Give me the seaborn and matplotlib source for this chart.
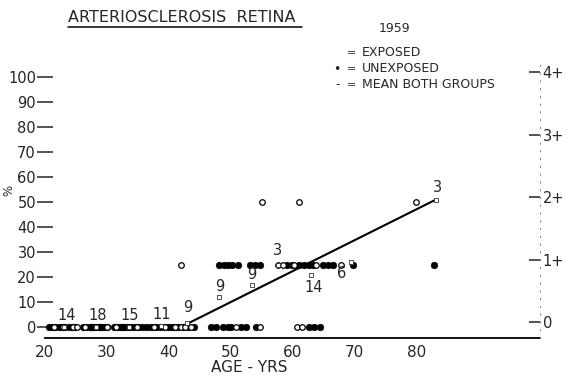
import matplotlib
matplotlib.use("Agg")
import matplotlib.pyplot as plt
from matplotlib.lines import Line2D
from matplotlib.ticker import FixedLocator
import pandas as pd
import seaborn as sns

# --- data -------------------------------------------------------------
# Exposed subjects (open circles): age in years, % with retinal arteriosclerosis
exposed_age = [21.4, 22.9, 24.6, 25.2, 26.5, 28.3, 30.0, 31.5, 33.6, 34.8,
               37.6, 39.4, 41.0, 41.9, 42.7, 43.6, 50.9, 54.8, 60.8, 61.6,
               42.0, 57.6, 58.4, 60.3, 63.8, 67.9,
               55.0, 61.1, 80.0]
exposed_pct = [0] * 20 + [25] * 6 + [50] * 3

# Unexposed subjects (filled dots)
unexposed_age = [20.6, 21.1, 21.6, 22.2, 22.7, 23.2, 23.8, 24.3, 24.9,
                 26.2, 26.7, 27.2, 27.7, 28.1, 28.6, 29.1, 29.6, 30.1, 27.4, 28.9,
                 31.2, 31.7, 32.2, 32.8, 33.3, 33.9, 34.4, 35.0, 35.6, 32.5,
                 36.3, 36.9, 37.4, 38.0, 38.6, 39.2, 39.8, 40.3, 40.9,
                 41.5, 42.3, 43.1, 44.0,
                 46.9, 47.7, 48.8, 49.6, 50.1, 51.7, 52.5, 54.1, 62.7, 63.5, 64.4,
                 48.2, 48.9, 49.6, 50.3, 51.2, 53.1, 53.9, 54.7, 59.1, 59.9,
                 61.1, 61.9, 62.7, 63.3, 64.9, 65.7, 66.5, 69.7, 82.9]
unexposed_pct = [0] * 54 + [25] * 19

# Group means of both groups, with number of subjects per group
mean_age = [23.0, 28.3, 33.5, 38.8, 43.0, 48.2, 53.4, 57.6, 63.0, 69.5, 83.2]
mean_pct = [0, 0, 0, 0.5, 1.5, 12, 17, 25, 21, 26, 51]
group_n = [14, 18, 15, 11, 9, 9, 9, 3, 14, 6, 3]

# Trend of the means
trend_age = [42.6, 83.2]
trend_pct = [0.8, 51.0]

x_ticks = [20, 30, 40, 50, 60, 70, 80]
y_ticks = [0, 10, 20, 30, 40, 50, 60, 70, 80, 90, 100]
grade_ticks = [0, 1, 2, 3, 4]
grade_labels = ["0", "1+", "2+", "3+", "4+"]

# --- figure -----------------------------------------------------------
sns.set_style("white")
plt.rcParams["font.family"] = ["DejaVu Sans"]

W, H = 566, 378
fig = plt.figure(figsize=(W / 100, H / 100), dpi=100)
ax = fig.add_axes([45 / W, 1 - 338 / H, 495 / W, (338 - 60) / H])

ymin, ymax = -4.4, 106.8
ax.set_xlim(20, 100)
ax.set_ylim(ymin, ymax)

exp_df = pd.DataFrame({"age": exposed_age, "pct": exposed_pct})
unexp_df = pd.DataFrame({"age": unexposed_age, "pct": unexposed_pct})
mean_df = pd.DataFrame({"age": mean_age, "pct": mean_pct, "n": group_n})

sns.lineplot(x=trend_age, y=trend_pct, ax=ax, color="black", lw=1.5)
sns.scatterplot(data=unexp_df, x="age", y="pct", ax=ax, marker="o", s=24,
                facecolor="black", edgecolor="black", linewidth=0.3, zorder=3)
sns.scatterplot(data=exp_df, x="age", y="pct", ax=ax, marker="o", s=16,
                facecolor="white", edgecolor="black", linewidth=0.9, zorder=4)
sns.scatterplot(data=mean_df, x="age", y="pct", ax=ax, marker="s", s=10,
                facecolor="white", edgecolor="#333333", linewidth=0.6, zorder=5)

# group sizes written beside each mean (offsets in points)
label_offsets = [(2, 8.5), (1, 8.5), (1, 8.5), (0, 8), (0, 11), (0, 7.5),
                 (0, 7.5), (0, 10), (2, -9), (-7, -8), (1, 9)]
for (a, p, n), (dx, dy) in zip(zip(mean_age, mean_pct, group_n), label_offsets):
    ax.annotate(str(n), xy=(a, p), xytext=(dx, dy), textcoords="offset points",
                ha="center", va="center", fontsize=10.5, zorder=6)

# axes styling
for side in ("left", "top", "right"):
    ax.spines[side].set_visible(False)
ax.spines["bottom"].set_linewidth(1.3)
ax.spines["bottom"].set_color("black")

ax.set_xticks(x_ticks)
ax.set_yticks(y_ticks)
ax.xaxis.set_minor_locator(FixedLocator([70, 75, 80, 85]))
ax.tick_params(axis="x", which="major", length=0, pad=5, labelsize=11)
ax.tick_params(axis="x", which="minor", direction="in", length=4, width=0.8)
ax.tick_params(axis="y", direction="inout", length=11, width=1.1, pad=1,
               labelsize=10.5, left=True)
ax.set_xlabel("")
ax.set_ylabel("")

# right-hand grade scale
ax2 = ax.twinx()
ax2.set_ylim((ymin - 2) / 25, (ymax - 2) / 25)
ax2.set_yticks(grade_ticks)
ax2.set_yticklabels(grade_labels)
ax2.tick_params(axis="y", direction="in", length=8, width=1.1, pad=2,
                labelsize=10.5)
for side in ("left", "top", "bottom"):
    ax2.spines[side].set_visible(False)
ax2.spines["right"].set_linestyle((0, (1, 7)))
ax2.spines["right"].set_linewidth(0.7)
ax2.spines["right"].set_color("#777777")

# titles and captions
fig.text(68 / W, 1 - 17 / H, "ARTERIOSCLEROSIS  RETINA", fontsize=11.5,
         ha="left", va="center")
fig.add_artist(Line2D([68 / W, 302 / W], [1 - 27 / H, 1 - 27 / H],
                      transform=fig.transFigure, color="black", lw=1.1))

fig.text(249 / W, 1 - 367 / H, "AGE - YRS", fontsize=11, ha="center", va="center")
fig.text(9 / W, 1 - 190 / H, "%", fontsize=8.5, rotation=90,
         ha="center", va="center")

# key
fig.text(394 / W, 1 - 28 / H, "1959", fontsize=9, ha="center", va="center")
fig.text(352 / W, 1 - 53 / H, "=", fontsize=8, ha="center", va="center")
fig.text(362 / W, 1 - 53 / H, "EXPOSED", fontsize=9, ha="left", va="center")
fig.text(337 / W, 1 - 69 / H, "\u2022", fontsize=9, ha="center", va="center")
fig.text(352 / W, 1 - 69 / H, "=", fontsize=8, ha="center", va="center")
fig.text(362 / W, 1 - 69 / H, "UNEXPOSED", fontsize=9, ha="left", va="center")
fig.text(338 / W, 1 - 85 / H, "-", fontsize=9, ha="center", va="center")
fig.text(352 / W, 1 - 85 / H, "=", fontsize=8, ha="center", va="center")
fig.text(362 / W, 1 - 85 / H, "MEAN BOTH GROUPS", fontsize=9, ha="left",
         va="center")

fig.savefig("out.png", dpi=100, facecolor="white")
